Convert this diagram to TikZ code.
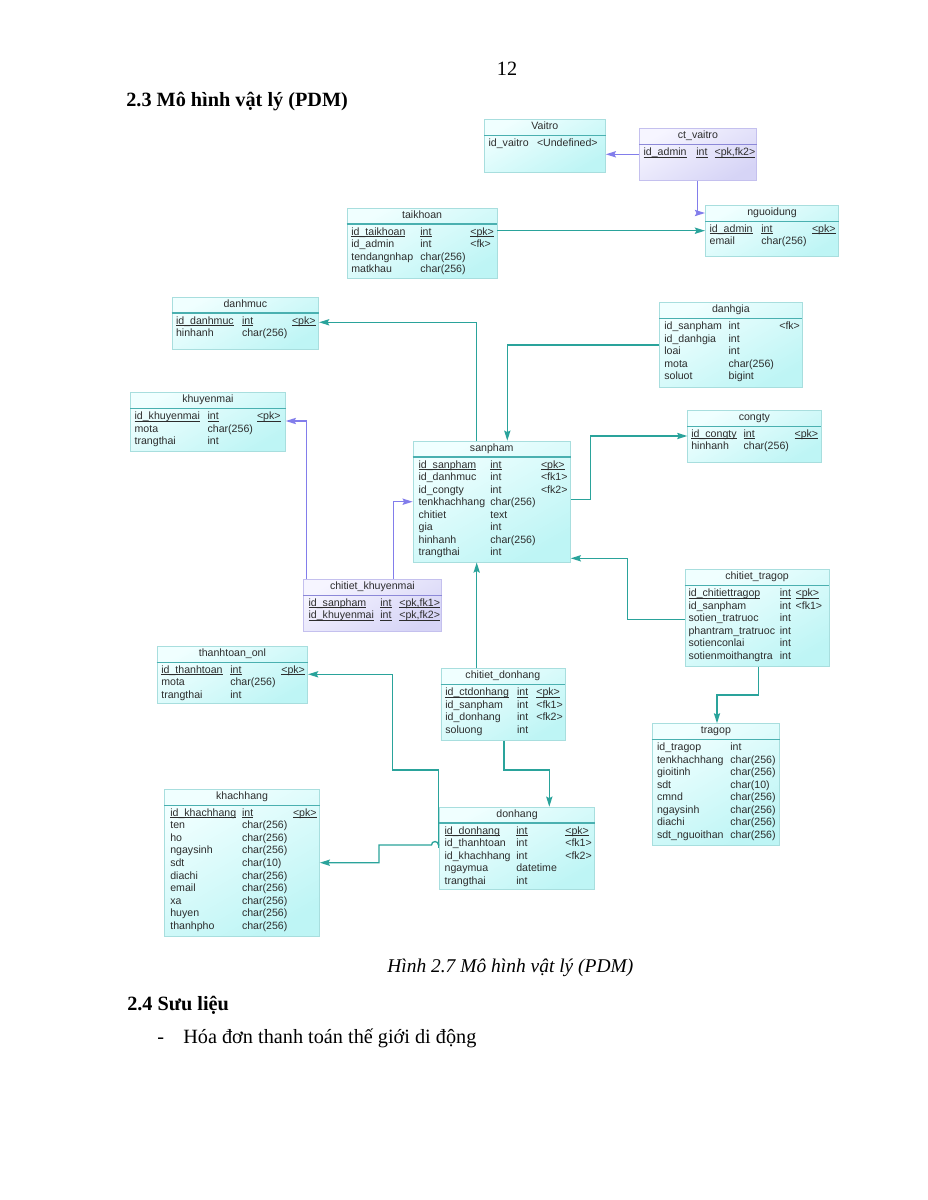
\documentclass[tikz,border=0pt]{standalone}
\usepackage{fontspec}
\setmainfont{Liberation Serif}
\newfontfamily\pdmsans{Liberation Sans}
\usetikzlibrary{arrows.meta,calc}
\definecolor{cyantop}{RGB}{240,255,255}
\definecolor{cyanbot}{RGB}{190,245,245}
\definecolor{cyanbd}{RGB}{168,222,222}
\definecolor{cyansep}{RGB}{74,176,176}
\definecolor{lavtop}{RGB}{246,245,255}
\definecolor{lavbot}{RGB}{214,212,246}
\definecolor{lavbd}{RGB}{196,192,238}
\definecolor{lavsep}{RGB}{140,136,216}
\definecolor{fkteal}{RGB}{42,163,155}
\definecolor{fkpurple}{RGB}{130,125,235}
\definecolor{tabtxt}{RGB}{45,45,45}
\def\px{0.642pt}
\tikzset{
  tabcyan/.style={draw=cyanbd, line width=0.5pt, top color=cyantop, bottom color=cyanbot, shading angle=30, inner sep=0pt},
  tablav/.style={draw=lavbd, line width=0.5pt, top color=lavtop, bottom color=lavbot, shading angle=30, inner sep=0pt},
  tabcyansep/.style={draw=cyansep, line width=0.7pt},
  tablavsep/.style={draw=lavsep, line width=0.7pt},
  tabtitle/.style={inner sep=0pt, text=tabtxt, font=\pdmsans\fontsize{6.8}{8}\selectfont},
  tabtext/.style={anchor=base west, inner sep=0pt, text=tabtxt, font=\pdmsans\fontsize{6.8}{8}\selectfont},
  fk/.style={draw=fkteal, line width=0.85pt, -{Stealth[length=6.5pt,width=4pt,inset=1pt]}},
  fkp/.style={draw=fkpurple, line width=0.85pt, -{Stealth[length=6.5pt,width=4pt,inset=1pt]}},
  pagetext/.style={inner sep=0pt, font=\fontsize{13}{15}\selectfont},
  heading/.style={inner sep=0pt, font=\fontsize{13}{15}\selectfont\bfseries},
  figcap/.style={inner sep=0pt, font=\fontsize{12.5}{15}\selectfont\itshape}
}
% table: [style] name, x, y, width, height, title
\newcommand{\pdmtab}[7][tabcyan]{%
  \node[#1, minimum width=#5*\px, minimum height=#6*\px, anchor=north west] (#2) at (#3,#4) {};
  \draw[#1sep] ($(#2.north west)+(0,16.3)$) -- ($(#2.north east)+(0,16.3)$);
  \node[tabtitle, anchor=base] at ($(#2.north)+(0,10.6)$) {#7};
}
\newcommand{\pdmul}[2]{\ifnum#1=1 \setbox0\hbox{#2}\rlap{\rule[-1.1pt]{\wd0}{0.4pt}}\box0\else #2\fi}
% rows: name, col1, col2, col3, list
\newcommand{\pdmrows}[5]{%
  \foreach \ca/\cb/\cc/\cu [count=\ci from 0] in {#5} {
    \node[tabtext] at ($(#1.north west)+(#2,27.3+12.55*\ci)$) {\pdmul{\cu}{\ca}};
    \node[tabtext] at ($(#1.north west)+(#3,27.3+12.55*\ci)$) {\pdmul{\cu}{\cb}};
    \node[tabtext] at ($(#1.north west)+(#4,27.3+12.55*\ci)$) {\pdmul{\cu}{\cc}};
  }
}
\begin{document}
\begin{tikzpicture}[x=0.642pt,y=-0.642pt]
\fill[white] (0,0) rectangle (927,1200);
\useasboundingbox (0,0) rectangle (927,1200);
% page text
\node[pagetext, anchor=base] (pageno) at (507,75) {12};
\node[heading, anchor=base west] (sec23) at (126,106) {2.3 Mô hình vật lý (PDM)};
\node[figcap, anchor=base west] (figname) at (387,972) {Hình 2.7 Mô hình vật lý (PDM)};
\node[heading, anchor=base west] (sec24) at (127,1010) {2.4 Sưu liệu};
\node[pagetext, anchor=base west] (dash) at (157,1043) {-};
\node[pagetext, anchor=base west] (item) at (183,1043) {Hóa đơn thanh toán thế giới di động};
% tables
\pdmtab{vaitro}{484}{119.3}{121}{52.4}{Vaitro}
\pdmrows{vaitro}{4.3}{52.7}{0}{id\_vaitro/{<Undefined>}//0}
\pdmtab[tablav]{ctvaitro}{639}{128.3}{117}{51.7}{ct\_vaitro}
\pdmrows{ctvaitro}{4.3}{57}{75.3}{id\_admin/int/{<pk,fk2>}/1}
\pdmtab{nguoidung}{705}{205}{133.3}{51}{nguoidung}
\pdmrows{nguoidung}{4.3}{56}{106.7}{id\_admin/int/{<pk>}/1, email/char(256)//0}
\pdmtab{taikhoan}{346.7}{207.7}{150}{70.6}{taikhoan}
\pdmrows{taikhoan}{4.3}{73.3}{123.3}{id\_taikhoan/int/{<pk>}/1, id\_admin/int/{<fk>}/0, tendangnhap/char(256)//0, matkhau/char(256)//0}
\pdmtab{danhmuc}{171.7}{296.7}{146.6}{52.3}{danhmuc}
\pdmrows{danhmuc}{4}{70}{120}{id\_danhmuc/int/{<pk>}/1, hinhanh/char(256)//0}
\pdmtab{khuyenmai}{130}{392.3}{155}{58.4}{khuyenmai}
\pdmrows{khuyenmai}{4.3}{77.3}{126.7}{id\_khuyenmai/int/{<pk>}/1, mota/char(256)//0, trangthai/int//0}
\pdmtab{danhgia}{659.3}{302.3}{142.4}{84.4}{danhgia}
\pdmrows{danhgia}{4.7}{69}{119.7}{id\_sanpham/int/{<fk>}/0, id\_danhgia/int//0, loai/int//0, mota/char(256)//0, soluot/bigint//0}
\pdmtab{congty}{687.3}{410}{133.4}{51.7}{congty}
\pdmrows{congty}{3.7}{56}{107}{id\_congty/int/{<pk>}/1, hinhanh/char(256)//0}
\pdmtab{sanpham}{412.7}{440.7}{157.3}{121}{sanpham}
\pdmrows{sanpham}{5.6}{77.3}{128}{id\_sanpham/int/{<pk>}/1, id\_danhmuc/int/{<fk1>}/0, id\_congty/int/{<fk2>}/0, tenkhachhang/char(256)//0, chitiet/text//0, gia/int//0, hinhanh/char(256)//0, trangthai/int//0}
\pdmtab[tablav]{chitietkm}{303}{579}{138}{52}{chitiet\_khuyenmai}
\pdmrows{chitietkm}{5.3}{77}{96}{id\_sanpham/int/{<pk,fk1>}/1, id\_khuyenmai/int/{<pk,fk2>}/1}
\pdmtab{chitiettg}{684.7}{569.3}{143.9}{96.7}{chitiet\_tragop}
\pdmrows{chitiettg}{3.5}{94.8}{110.6}{id\_chitiettragop/int/{<pk>}/1, id\_sanpham/int/{<fk1>}/0, sotien\_tratruoc/int//0, phantram\_tratruoc/int//0, sotienconlai/int//0, sotienmoithangtra/int//0}
\pdmtab{chitietdh}{440.5}{668.3}{124}{71.7}{chitiet\_donhang}
\pdmrows{chitietdh}{4.5}{76.2}{95.5}{id\_ctdonhang/int/{<pk>}/1, id\_sanpham/int/{<fk1>}/0, id\_donhang/int/{<fk2>}/0, soluong/int//0}
\pdmtab{thanhtoan}{156.7}{646}{150.6}{57.3}{thanhtoan\_onl}
\pdmrows{thanhtoan}{4.3}{73.3}{124.3}{id\_thanhtoan/int/{<pk>}/1, mota/char(256)//0, trangthai/int//0}
\pdmtab{khachhang}{164.3}{789}{154.7}{146.7}{khachhang}
\pdmrows{khachhang}{5.7}{77.4}{128.4}{id\_khachhang/int/{<pk>}/1, ten/char(256)//0, ho/char(256)//0, ngaysinh/char(256)//0, sdt/char(10)//0, diachi/char(256)//0, email/char(256)//0, xa/char(256)//0, huyen/char(256)//0, thanhpho/char(256)//0}
\pdmtab{donhang}{439.3}{806.7}{154.7}{82.6}{donhang}
\pdmrows{donhang}{5}{76.7}{125.7}{id\_donhang/int/{<pk>}/1, id\_thanhtoan/int/{<fk1>}/0, id\_khachhang/int/{<fk2>}/0, ngaymua/datetime//0, trangthai/int//0}
\pdmtab{tragop}{651.7}{723.3}{127.6}{121.7}{tragop}
\pdmrows{tragop}{5}{78.3}{0}{id\_tragop/int//0, tenkhachhang/char(256)//0, gioitinh/char(256)//0, sdt/char(10)//0, cmnd/char(256)//0, ngaysinh/char(256)//0, diachi/char(256)//0, sdt\_nguoithan/char(256)//0}
% references
\coordinate (b1) at (639,154.3);
\draw[fkp] (ctvaitro.west |- b1) -- (vaitro.east |- b1);
\coordinate (b2) at (697.7,213);
\draw[fkp] (ctvaitro.south -| b2) -- (b2) -- (nguoidung.west |- b2);
\coordinate (b3) at (500,230.7);
\draw[fk] (taikhoan.east |- b3) -- (nguoidung.west |- b3);
\coordinate (b4) at (476.7,322.3);
\draw[fk] (sanpham.north -| b4) -- (b4) -- (danhmuc.east |- b4);
\coordinate (b5) at (507.3,345);
\draw[fk] (danhgia.west |- b5) -- (b5) -- (sanpham.north -| b5);
\coordinate (b6) at (590.7,499.3);
\coordinate (b7) at (590.7,436);
\draw[fk] (sanpham.east |- b6) -- (b6) -- (b7) -- (congty.west |- b7);
\coordinate (b8) at (627.7,619.3);
\coordinate (b9) at (627.7,558.3);
\draw[fk] (chitiettg.west |- b8) -- (b8) -- (b9) -- (sanpham.east |- b9);
\coordinate (b10) at (758.4,695);
\coordinate (b11) at (717,695);
\draw[fk] (chitiettg.south -| b10) -- (b10) -- (b11) -- (tragop.north -| b11);
\coordinate (b12) at (306.7,421);
\draw[fkp] (chitietkm.north -| b12) -- (b12) -- (khuyenmai.east |- b12);
\coordinate (b13) at (393.3,501.7);
\draw[fkp] (chitietkm.north -| b13) -- (b13) -- (sanpham.west |- b13);
\coordinate (b14) at (476.7,600);
\draw[fk] (chitietdh.north -| b14) -- (sanpham.south -| b14);
\coordinate (b15) at (504,770);
\coordinate (b16) at (549.3,770);
\draw[fk] (chitietdh.south -| b15) -- (b15) -- (b16) -- (donhang.north -| b16);
\coordinate (b17) at (438.3,848);
\coordinate (b18) at (438.3,770);
\coordinate (b19) at (392.3,770);
\coordinate (b20) at (392.3,674.3);
\draw[fk] (b17) -- (b18) -- (b19) -- (b20) -- (thanhtoan.east |- b20);
\coordinate (b21) at (438.5,845);
\coordinate (b22) at (379,845);
\coordinate (b23) at (379,862.7);
\draw[fk] (donhang.west |- b21) -- (b21) arc[start angle=0, end angle=-180, radius=3.5] -- (b22) -- (b23) -- (khachhang.east |- b23);
\end{tikzpicture}
\end{document}
